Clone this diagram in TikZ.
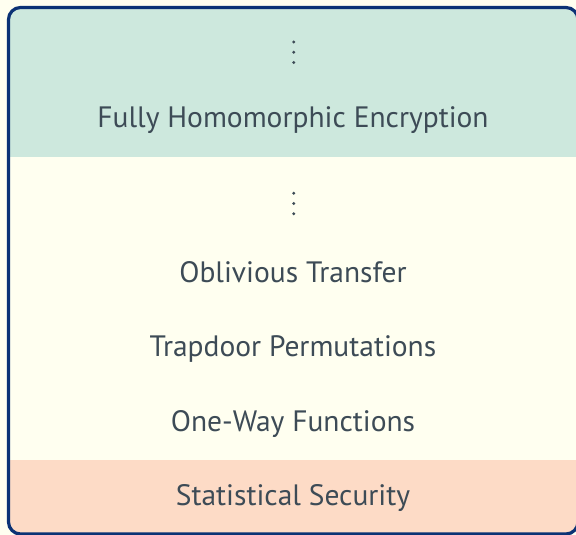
\documentclass[tikz,border=0pt]{standalone}
\usepackage{fontspec}
\setmainfont{PT Sans}
\definecolor{pageivory}{HTML}{FFFFF0}
\definecolor{bandmint}{HTML}{CDE8DD}
\definecolor{bandpeach}{HTML}{FDDBC6}
\definecolor{framenavy}{HTML}{0B3275}
\definecolor{labelslate}{HTML}{3D4B56}
\begin{document}
\begin{tikzpicture}[x=1pt,y=-1pt,
  lbl/.style={text=labelslate,font=\fontsize{29.5}{34}\selectfont,anchor=base,inner sep=0pt},
  dot/.style={fill=labelslate,circle,inner sep=0pt,minimum size=3.2pt}]
  \useasboundingbox (0,0) rectangle (576,535);
  \fill[pageivory] (0,0) rectangle (576,535);
  \begin{scope}
    \clip[rounded corners=12pt] (8.5,7.5) rectangle (578,534);
    \fill[bandmint] (0,0) rectangle (580,157);
    \fill[pageivory] (0,157) rectangle (580,460);
    \fill[bandpeach] (0,460) rectangle (580,540);
  \end{scope}
  \draw[framenavy,line width=3.2pt,rounded corners=12pt] (8.5,7.5) rectangle (578,534);
  % vertical ellipsis above the top label
  \node[dot] (ta) at (293.7,42) {};
  \node[dot] (tb) at (293.7,52.3) {};
  \node[dot] (tc) at (293.7,62.5) {};
  \node[lbl] (fhe) at (293,127.5) {Fully Homomorphic Encryption};
  % vertical ellipsis in the middle band
  \node[dot] (ma) at (293.7,193.3) {};
  \node[dot] (mb) at (293.7,203.5) {};
  \node[dot] (mc) at (293.7,213.7) {};
  \node[lbl] (ot) at (293,282) {Oblivious Transfer};
  \node[lbl] (tdp) at (293,356.5) {Trapdoor Permutations};
  \node[lbl] (owf) at (293,431) {One-Way Functions};
  \node[lbl] (stat) at (293,505) {Statistical Security};
\end{tikzpicture}
\end{document}
